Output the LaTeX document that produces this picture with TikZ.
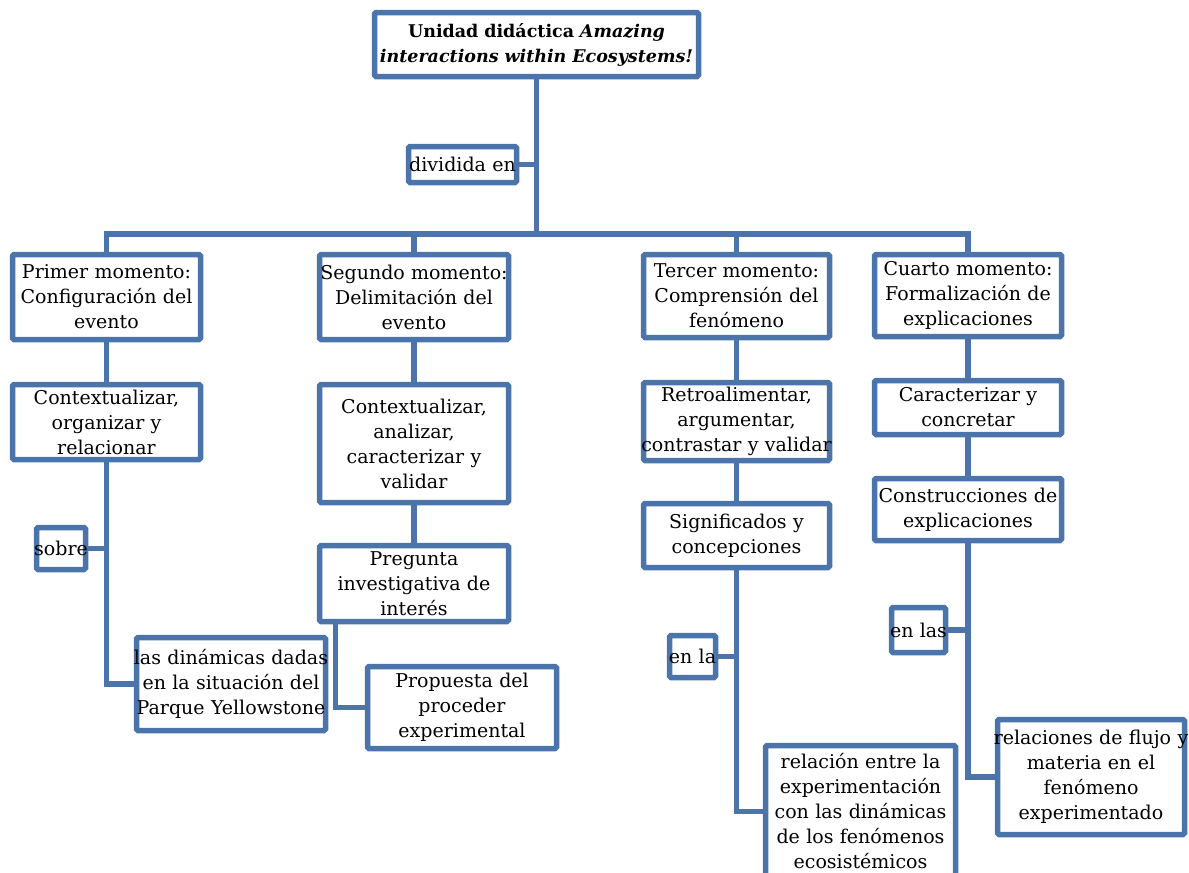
\documentclass[tikz,border=0pt]{standalone}
\usepackage{fontspec}
\setmainfont{DejaVu Serif}
\usetikzlibrary{backgrounds}
\definecolor{boxblue}{RGB}{74,116,170}
\newcommand{\wide}[1]{\makebox[0pt]{#1}}
\begin{document}
\begin{tikzpicture}[x=1pt,y=-1pt,
  box/.style={draw=boxblue, line width=5.5pt, fill=white, rounded corners=1.5pt,
    inner sep=1pt, align=center, font=\fontsize{19}{25}\selectfont},
  link/.style={draw=boxblue, line width=5.5pt}]
\path[use as bounding box] (0,0) rectangle (1189,873);
\clip (0,0) rectangle (1189,873);
% level 0
\node[box, minimum width=324pt, minimum height=64pt, text width=318pt, font=\fontsize{17.5}{25}\selectfont] (title) at (536.5,44.5)
  {\wide{\textbf{Unidad didáctica \textit{Amazing}}}\\\wide{\textbf{\textit{interactions within Ecosystems!}}}};
\node[box, minimum width=108pt, minimum height=36pt, text width=104pt] (div) at (462.5,164.5) {\wide{dividida en}};
% moments
\node[box, minimum width=188pt, minimum height=85pt, text width=184pt] (m1) at (106.5,297) {\wide{Primer momento:}\\\wide{Configuración del}\\evento};
\node[box, minimum width=189pt, minimum height=85pt, text width=185pt] (m2) at (414,297) {\wide{Segundo momento:}\\\wide{Delimitación del}\\evento};
\node[box, minimum width=186pt, minimum height=83pt, text width=182pt] (m3) at (736.5,296) {\wide{Tercer momento:}\\\wide{Comprensión del}\\fenómeno};
\node[box, minimum width=187pt, minimum height=82pt, text width=183pt] (m4) at (968,295.5) {\wide{Cuarto momento:}\\\wide{Formalización de}\\explicaciones};
% level 2
\node[box, minimum width=188pt, minimum height=75pt, text width=184pt] (a1) at (106.5,422) {Contextualizar,\\organizar y\\relacionar};
\node[box, minimum width=189pt, minimum height=118pt, text width=185pt] (a2) at (414,443.5) {Contextualizar,\\analizar,\\caracterizar y\\validar};
\node[box, minimum width=186pt, minimum height=78pt, text width=182pt] (a3) at (736.5,421.5) {Retroalimentar,\\argumentar,\\\wide{contrastar y validar}};
\node[box, minimum width=187pt, minimum height=54pt, text width=183pt] (a4) at (968,407.5) {Caracterizar y\\concretar};
% level 3
\node[box, minimum width=189pt, minimum height=76pt, text width=185pt] (b2) at (414,583.5) {Pregunta\\\wide{investigativa de}\\interés};
\node[box, minimum width=186pt, minimum height=64pt, text width=182pt] (b3) at (736.5,535.5) {Significados y\\concepciones};
\node[box, minimum width=187pt, minimum height=62pt, text width=183pt] (b4) at (968,509.5) {\wide{Construcciones de}\\explicaciones};
% linking words
\node[box, minimum width=49pt, minimum height=42pt, text width=45pt] (sobre) at (61,548.5) {\wide{sobre}};
\node[box, minimum width=46pt, minimum height=42pt, text width=42pt] (enla) at (692.5,656.5) {\wide{en la}};
\node[box, minimum width=54pt, minimum height=45pt, text width=50pt] (enlas) at (918.5,630) {\wide{en las}};
% leaves
\node[box, minimum width=189pt, minimum height=93pt, text width=185pt] (yell) at (231,684) {\wide{las dinámicas dadas}\\\wide{en la situación del}\\\wide{Parque Yellowstone}};
\node[box, minimum width=189pt, minimum height=82pt, text width=185pt] (prop) at (462,707.5) {Propuesta del\\proceder\\experimental};
\node[box, minimum width=190pt, minimum height=132pt, text width=186pt] (rel) at (860.5,811.5) {relación entre la\\\wide{experimentación}\\\wide{con las dinámicas}\\\wide{de los fenómenos}\\ecosistémicos};
\node[box, minimum width=187pt, minimum height=115pt, text width=183pt] (flujo) at (1091,777) {\wide{relaciones de flujo y}\\materia en el\\fenómeno\\experimentado};
\coordinate (bus) at (536.5,234);
\begin{scope}[on background layer]
  \draw[link] (title.south) -- (bus);
  \draw[link] (div.east) -- (title.south |- div.east);
  \draw[link] (m1.north) |- (bus) -| (m4.north);
  \draw[link] (m2.north) -- (m2.north |- bus);
  \draw[link] (m3.north) -- (m3.north |- bus);
  \draw[link] (m1.south) -- (a1.north);
  \draw[link] (m2.south) -- (a2.north);
  \draw[link] (m3.south) -- (a3.north);
  \draw[link] (m4.south) -- (a4.north);
  \draw[link] (a2.south) -- (b2.north);
  \draw[link] (a3.south) -- (b3.north);
  \draw[link] (a4.south) -- (b4.north);
  \draw[link] (a1.south) |- (yell.west);
  \draw[link] (sobre.east) -- (a1.south |- sobre.east);
  \draw[link] ([xshift=18.5pt]b2.south west) |- (prop.west);
  \draw[link] (b3.south) |- (rel.west);
  \draw[link] (enla.east) -- (b3.south |- enla.east);
  \draw[link] (b4.south) |- (flujo.west);
  \draw[link] (enlas.east) -- (b4.south |- enlas.east);
\end{scope}
\end{tikzpicture}
\end{document}
